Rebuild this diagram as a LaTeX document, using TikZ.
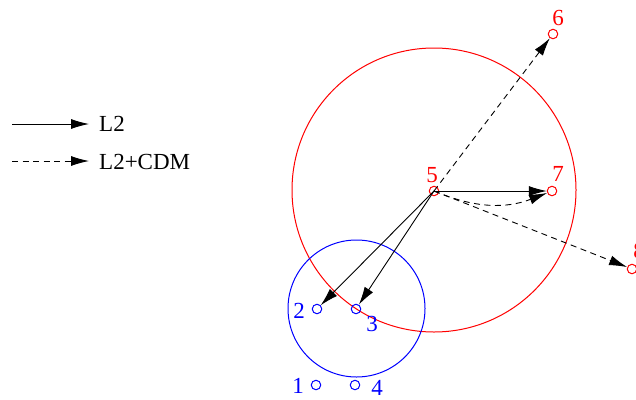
\documentclass[tikz,border=0pt]{standalone}
\usepackage{fontspec}
\setmainfont{Liberation Serif}
\usetikzlibrary{arrows.meta}
\begin{document}
\begin{tikzpicture}[x=1pt,y=-1pt,
  pt/.style={circle,draw,inner sep=0pt,minimum size=9.5pt,line width=1pt},
  redpt/.style={pt,draw=red},
  bluept/.style={pt,draw=blue},
  lab/.style={font=\fontsize{23}{25}\selectfont,inner sep=0pt},
  arr/.style={-{Latex[length=18pt,width=10pt]},line width=0.9pt},
  darr/.style={arr,dash pattern=on 6pt off 4.5pt}]
\useasboundingbox (0,0) rectangle (636,399);
% big circles
\draw[red,line width=1pt] (434,190) circle[radius=142];
\draw[blue,line width=1pt] (356.5,308.5) circle[radius=68.5];
% points
\node[redpt] (p5) at (434,191) {};
\node[redpt] (p6) at (553,34) {};
\node[redpt] (p7) at (552,191) {};
\node[redpt] (p8) at (632,269) {};
\node[bluept] (p2) at (317,309) {};
\node[bluept] (p3) at (356,309) {};
\node[bluept] (p1) at (316,385) {};
\node[bluept] (p4) at (355,385) {};
% labels
\node[lab,red] (l5) at (432,175) {5};
\node[lab,red] (l6) at (558,18) {6};
\node[lab,red] (l7) at (558,174) {7};
\node[lab,red] (l8) at (639,251) {8};
\node[lab,blue] (l2) at (299,311) {2};
\node[lab,blue] (l3) at (372,324) {3};
\node[lab,blue] (l1) at (298,386) {1};
\node[lab,blue] (l4) at (377,388) {4};
% connectors
\draw[arr] (p5.center) -- (p2);
\draw[arr] (p5.center) -- (p3);
\draw[arr] (p5.center) -- (p7);
\draw[darr] (p5.center) to[bend right=22] (p7);
\draw[darr] (p5.center) -- (p6);
\draw[darr] (p5.center) -- (p8);
% legend
\coordinate (a1) at (12,124);
\coordinate (b1) at (89,124);
\coordinate (a2) at (12,161);
\coordinate (b2) at (89,161);
\draw[arr] (a1) -- (b1);
\draw[darr] (a2) -- (b2);
\node[lab,anchor=west] (t1) at (99,124) {L2};
\node[lab,anchor=west] (t2) at (99,162) {L2+CDM};
\end{tikzpicture}
\end{document}
